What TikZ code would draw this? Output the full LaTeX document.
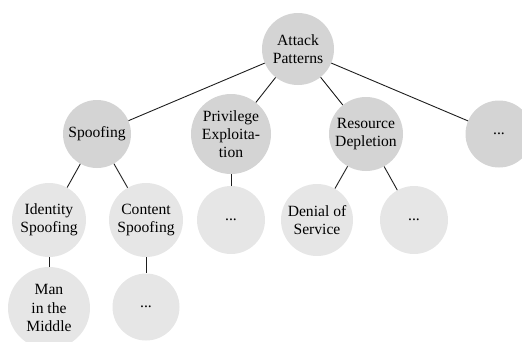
\documentclass[tikz,border=0pt]{standalone}
\usepackage{fontspec}
\setmainfont{Liberation Serif}
\begin{document}
\begin{tikzpicture}[x=1pt,y=-1pt,
  dark/.style={circle,fill={rgb,255:red,212;green,212;blue,212},inner sep=0pt,align=center,font=\fontsize{15.6}{18.2}\selectfont},
  light/.style={circle,fill={rgb,255:red,230;green,230;blue,230},inner sep=0pt,align=center,font=\fontsize{15.6}{18.2}\selectfont},
  edge/.style={draw={rgb,255:red,30;green,30;blue,30},line width=0.9pt}]
\useasboundingbox (0,0) rectangle (522,341);
\clip (0,0) rectangle (522,341);
\node[dark,minimum size=72pt] (root) at (298,49) {Attack\\Patterns};
\node[dark,minimum size=68pt] (spoof) at (97,134) {Spoofing};
\node[dark,minimum size=80pt] (priv) at (231,134) {Privilege\\Exploita-\\tion};
\node[dark,minimum size=74pt] (res) at (366,134) {Resource\\Depletion};
\node[dark,minimum size=67pt] (more) at (499,134) {...};
\node[light,minimum size=74pt] (ident) at (49,220) {Identity\\Spoofing};
\node[light,minimum size=74pt] (cont) at (146,220) {Content\\Spoofing};
\node[light,minimum size=68pt] (privm) at (231,220) {...};
\node[light,minimum size=72pt] (dos) at (317,220) {Denial of\\Service};
\node[light,minimum size=68pt] (resm) at (414,220) {...};
\node[light,minimum size=82pt] (mitm) at (49,308) {Man\\in the\\Middle};
\node[light,minimum size=67pt] (contm) at (146,307) {...};
\draw[edge] (root) -- (spoof);
\draw[edge] (root) -- (priv);
\draw[edge] (root) -- (res);
\draw[edge] (root) -- (more);
\draw[edge] (spoof) -- (ident);
\draw[edge] (spoof) -- (cont);
\draw[edge] (priv) -- (privm);
\draw[edge] (res) -- (dos);
\draw[edge] (res) -- (resm);
\draw[edge] (ident) -- (mitm);
\draw[edge] (cont) -- (contm);
\end{tikzpicture}
\end{document}
